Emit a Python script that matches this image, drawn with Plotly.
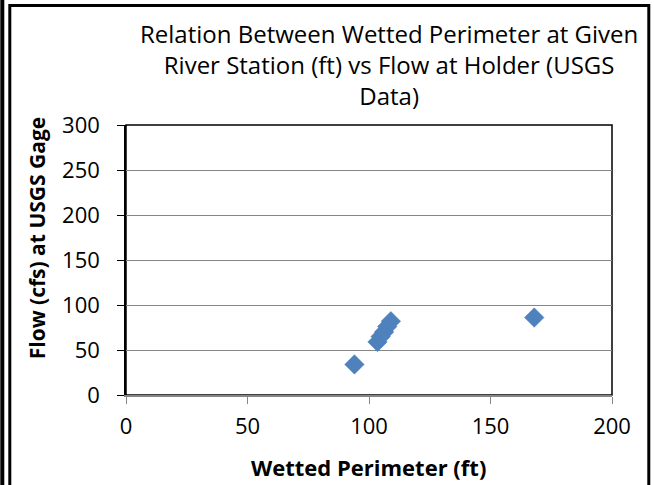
import plotly.graph_objects as go

wetted_perimeter = [94, 103.5, 104.8, 106.2, 107.5, 109, 168]
flow_cfs = [34, 59, 65, 70, 76, 82, 86]

title_text = "Relation Between Wetted Perimeter at Given<br>River Station (ft) vs Flow at Holder (USGS<br>Data)"
x_title = "Wetted Perimeter (ft)"
y_title = "Flow (cfs) at USGS Gage"

W, H = 654, 485
L, R, T, B = 125.7, 611.7, 125, 395
pw, ph = R - L, B - T

def u(px):
    return (px - L) / pw

def v(py):
    return (B - py) / ph

font = "Open Sans"

fig = go.Figure()
fig.add_trace(go.Scatter(
    x=wetted_perimeter, y=flow_cfs, mode="markers",
    marker=dict(symbol="diamond", size=15, color="#4F81BD",
                line=dict(color="#4A7EBB", width=0.5)),
    showlegend=False,
))

fig.update_layout(
    width=W, height=H,
    margin=dict(l=L, r=W - R, t=T, b=H - B),
    paper_bgcolor="white", plot_bgcolor="white",
    font=dict(family=font, size=18, color="black"),
    xaxis=dict(range=[0, 200], tickvals=[0, 50, 100, 150, 200],
               showgrid=False, zeroline=False,
               showline=True, linecolor="#868686", linewidth=1.5,
               ticks="outside", ticklen=7, tickcolor="#868686",
               tickfont=dict(size=22), ticklabelstandoff=4),
    yaxis=dict(range=[0, 300], tickvals=[0, 50, 100, 150, 200, 250, 300],
               showgrid=True, gridcolor="#868686", gridwidth=1,
               zeroline=False,
               showline=True, linecolor="black", linewidth=1.5,
               ticks="outside", ticklen=7, tickcolor="black",
               tickfont=dict(size=22), ticklabelstandoff=13),
    annotations=[
        dict(text=title_text, x=u(389), y=v(65), xref="paper", yref="paper",
             showarrow=False, font=dict(size=24, family=font),
             xanchor="center", yanchor="middle", align="center"),
        dict(text="<b>" + x_title + "</b>", x=u(368), y=v(467), xref="paper", yref="paper",
             showarrow=False, font=dict(size=22, family=font),
             xanchor="center", yanchor="middle"),
        dict(text="<b>" + y_title + "</b>", x=u(37), y=v(238), xref="paper", yref="paper",
             showarrow=False, textangle=-90, font=dict(size=21, family=font),
             xanchor="center", yanchor="middle"),
    ],
    shapes=[
        dict(type="rect", xref="paper", yref="paper", x0=0, x1=1, y0=0, y1=1,
             line=dict(color="black", width=1.5), layer="below"),
        dict(type="rect", xref="paper", yref="paper",
             x0=u(9.5), x1=u(648.5), y0=v(495), y1=v(5.5),
             line=dict(color="black", width=3)),
        dict(type="rect", xref="paper", yref="paper",
             x0=u(0), x1=u(4), y0=v(490), y1=v(-5),
             fillcolor="black", line=dict(width=0)),
    ],
)

fig.write_html("out.html", config={"displayModeBar": False},
               post_script="document.body.style.margin='0';document.body.style.overflow='hidden';")
